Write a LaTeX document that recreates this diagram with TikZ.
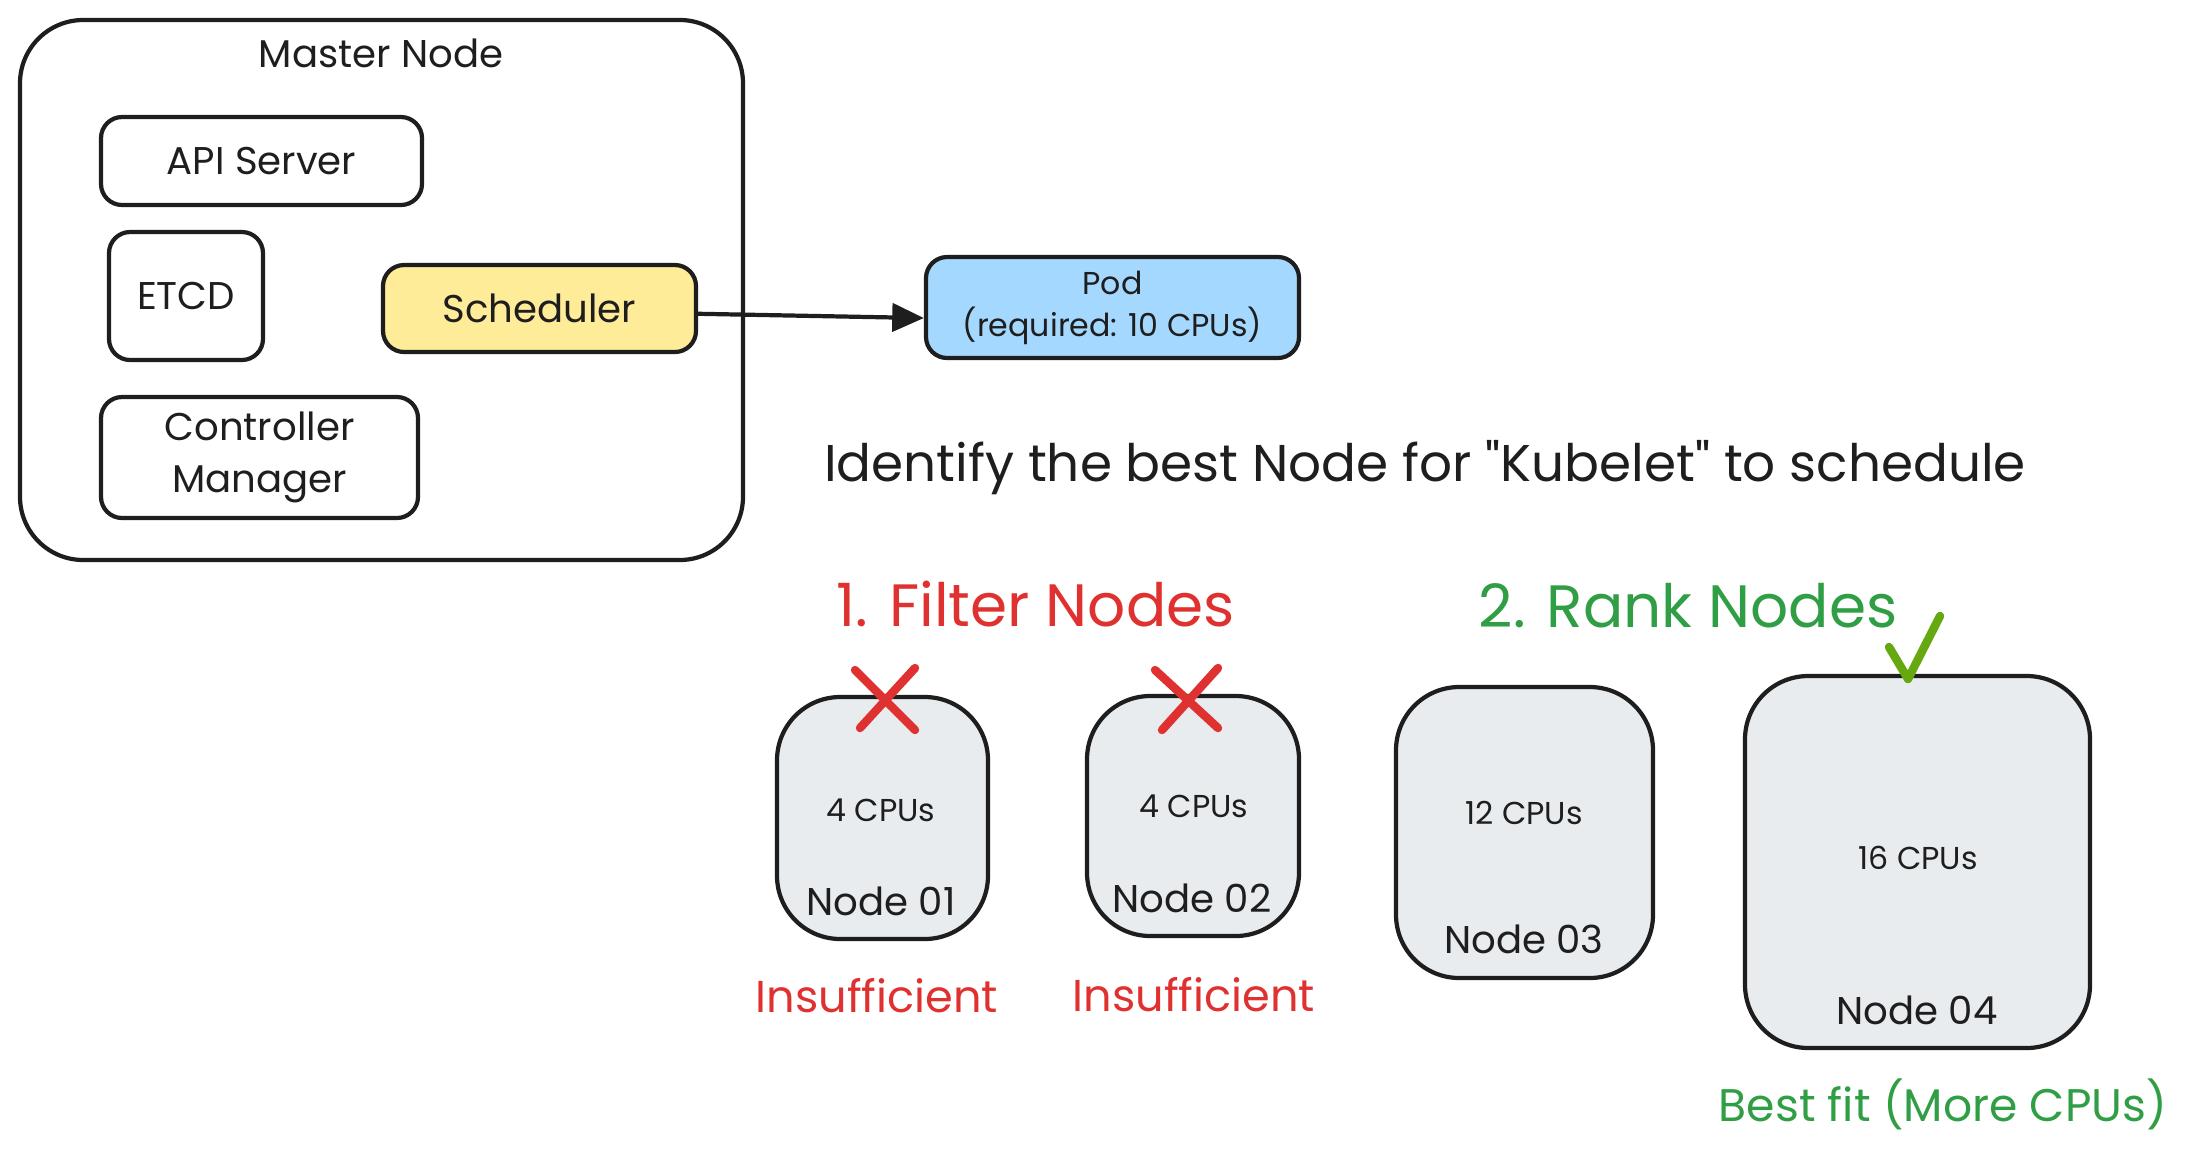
\documentclass[tikz,border=0pt]{standalone}
\usepackage{fontspec}
\setmainfont{Poppins}[Ligatures=TeXOff]
\usetikzlibrary{arrows.meta}

\definecolor{ink}{HTML}{1E1E1E}
\definecolor{schedfill}{HTML}{FFEC99}
\definecolor{podfill}{HTML}{A5D8FF}
\definecolor{nodefill}{HTML}{E9ECEF}
\definecolor{badred}{HTML}{E03131}
\definecolor{goodgreen}{HTML}{2F9E44}
\definecolor{tickgreen}{HTML}{66A80F}

\tikzset{
  box/.style={draw=ink, line width=1.2pt, text=ink, align=center, inner sep=0pt},
  comp/.style={box, rounded corners=6pt, font=\fontsize{11}{13}\selectfont},
  worker/.style={box, fill=nodefill, rounded corners=18pt},
  cpu/.style={text=ink, font=\fontsize{9}{11}\selectfont},
  wname/.style={text=ink, font=\fontsize{11}{13}\selectfont},
  cross/.style={draw=badred, line width=2.4pt, line cap=round},
}

\begin{document}
\begin{tikzpicture}
    \useasboundingbox (0,0) rectangle (21.91,-11.54);

    % master node and its parts
    \node[box, rounded corners=18pt, minimum width=7.23cm, minimum height=5.40cm] (master) at (3.815,-2.90) {};
    \node[wname] (mtitle) at (3.81,-0.53) {Master Node};

    \node[comp, minimum width=3.21cm, minimum height=0.88cm] (api) at (2.615,-1.61) {API Server};
    \node[comp, minimum width=1.54cm, minimum height=1.28cm] (etcd) at (1.86,-2.96) {ETCD};
    \node[comp, fill=schedfill, minimum width=3.13cm, minimum height=0.87cm] (sched) at (5.395,-3.085) {Scheduler};
    \node[comp, minimum width=3.17cm, minimum height=1.21cm,
          font=\fontsize{11}{15}\selectfont] (ctrl) at (2.595,-4.575) {Controller\\Manager};

    % pod
    \node[comp, fill=podfill, minimum width=3.73cm, minimum height=1.01cm,
          font=\fontsize{9}{12}\selectfont] (pod) at (11.125,-3.075) {Pod\\(required: 10 CPUs)};
    \draw[ink, line width=1.2pt, -{Triangle[length=9pt,width=8pt]}]
        ([yshift=-1.5pt]sched.east) -- ([yshift=-3pt]pod.west);

    \node[text=ink, font=\fontsize{14.7}{18}\selectfont] (goal) at (14.25,-4.68)
        {Identify the best Node for "Kubelet" to schedule};

    % step titles
    \node[text=badred, font=\fontsize{17}{20}\selectfont] (filter) at (10.355,-6.04) {1. Filter Nodes};
    \node[text=goodgreen, font=\fontsize{17}{20}\selectfont] (rank) at (16.88,-6.06) {2. Rank Nodes};

    % worker nodes
    \node[worker, minimum width=2.11cm, minimum height=2.42cm] (n1) at (8.825,-8.18) {};
    \node[cpu] (cpu1) at (8.81,-8.10) {4 CPUs};
    \node[wname] (name1) at (8.81,-9.01) {Node 01};
    \node[text=badred, font=\fontsize{12.7}{15}\selectfont] (bad1) at (8.77,-9.96) {Insufficient};

    \node[worker, minimum width=2.12cm, minimum height=2.40cm] (n2) at (11.93,-8.16) {};
    \node[cpu] (cpu2) at (11.94,-8.06) {4 CPUs};
    \node[wname] (name2) at (11.92,-8.98) {Node 02};
    \node[text=badred, font=\fontsize{12.7}{15}\selectfont] (bad2) at (11.94,-9.95) {Insufficient};

    \node[worker, minimum width=2.57cm, minimum height=2.91cm] (n3) at (15.245,-8.325) {};
    \node[cpu] (cpu3) at (15.24,-8.13) {12 CPUs};
    \node[wname] (name3) at (15.24,-9.39) {Node 03};

    \node[worker, minimum width=3.45cm, minimum height=3.72cm] (n4) at (19.175,-8.62) {};
    \node[cpu] (cpu4) at (19.18,-8.58) {16 CPUs};
    \node[wname] (name4) at (19.17,-10.10) {Node 04};
    \node[text=goodgreen, font=\fontsize{13}{15}\selectfont] (best) at (19.43,-11.04) {Best fit (More CPUs)};

    % marks
    \draw[cross] (8.55,-6.70) -- (9.15,-7.30);
    \draw[cross] (9.15,-6.68) -- (8.60,-7.28);
    \draw[cross] (11.55,-6.70) -- (12.18,-7.28);
    \draw[cross] (12.18,-6.68) -- (11.62,-7.30);
    \draw[tickgreen, line width=2.4pt, line cap=round, line join=round]
        (18.89,-6.47) -- (19.08,-6.79) -- (19.40,-6.16);
\end{tikzpicture}
\end{document}
